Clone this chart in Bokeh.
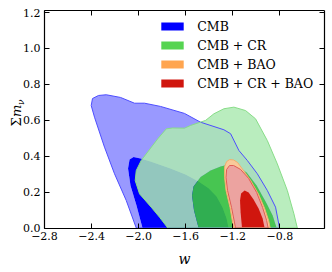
from bokeh.plotting import figure
from bokeh.models import (Range1d, FixedTicker, LinearAxis, Legend, LegendItem,
                          Label, CustomJSTickFormatter, CustomLabelingPolicy)
from bokeh.embed import file_html
from bokeh.resources import INLINE

# ---------------- data ----------------
x_ticks = [-2.8, -2.4, -2.0, -1.6, -1.2, -0.8]
y_ticks = [0.0, 0.2, 0.4, 0.6, 0.8, 1.0, 1.2]
labels = ["CMB", "CMB + CR", "CMB + BAO", "CMB + CR + BAO"]

# CMB (95% and 68%)
cmb95_w = [-2.020, -2.105, -2.205, -2.290, -2.375, -2.403, -2.392, -2.341, -2.275, -2.154,
           -2.035, -1.950, -1.814, -1.610, -1.473, -1.275, -1.218, -1.148, -1.076, -0.991,
           -0.906, -0.836, -0.802]
cmb95_m = [0.0, 0.153, 0.302, 0.450, 0.617, 0.682, 0.721, 0.738, 0.742, 0.727,
           0.695, 0.695, 0.677, 0.638, 0.589, 0.547, 0.525, 0.432, 0.376, 0.302,
           0.209, 0.116, 0.0]
cmb68_w = [-1.967, -2.018, -2.069, -2.090, -2.077, -2.043, -1.984, -1.899, -1.729, -1.601,
           -1.490, -1.405, -1.337, -1.286, -1.252, -1.235]
cmb68_m = [0.0, 0.125, 0.237, 0.331, 0.381, 0.395, 0.387, 0.370, 0.331, 0.298,
           0.259, 0.221, 0.175, 0.114, 0.053, 0.0]

# CMB + CR
cr95_w = [-1.752, -1.822, -1.893, -1.992, -2.029, -2.020, -1.978, -1.837, -1.765, -1.712,
          -1.610, -1.559, -1.431, -1.360, -1.275, -1.190, -1.091, -1.006, -0.906, -0.821,
          -0.736, -0.680, -0.651]
cr95_m = [0.0, 0.060, 0.116, 0.190, 0.264, 0.320, 0.376, 0.497, 0.552, 0.557,
          0.556, 0.571, 0.599, 0.636, 0.664, 0.673, 0.654, 0.608, 0.487, 0.357,
          0.209, 0.079, 0.0]
cr68_w = [-1.490, -1.529, -1.546, -1.533, -1.473, -1.388, -1.303, -1.235, -1.167, -1.082,
          -0.997, -0.912, -0.861, -0.827]
cr68_m = [0.0, 0.097, 0.181, 0.231, 0.284, 0.320, 0.342, 0.354, 0.348, 0.309,
          0.237, 0.136, 0.070, 0.0]

# CMB + BAO
bao95_w = [-1.193, -1.223, -1.257, -1.269, -1.269, -1.252, -1.227, -1.193, -1.159, -1.108,
           -1.048, -0.980, -0.929, -0.895, -0.882]
bao95_m = [0.0, 0.114, 0.209, 0.281, 0.342, 0.370, 0.381, 0.379, 0.365, 0.320,
           0.265, 0.187, 0.109, 0.042, 0.0]
bao68_w = [-1.140, -1.152, -1.156, -1.146, -1.112, -1.076, -1.030, -0.985, -0.950, -0.935]
bao68_m = [0.0, 0.086, 0.160, 0.205, 0.222, 0.210, 0.168, 0.115, 0.055, 0.0]

# CMB + CR + BAO
all95_w = [-1.176, -1.210, -1.244, -1.257, -1.252, -1.227, -1.193, -1.133, -1.065, -0.997,
           -0.946, -0.912, -0.899]
all95_m = [0.0, 0.114, 0.209, 0.281, 0.326, 0.348, 0.348, 0.326, 0.276, 0.198,
           0.114, 0.042, 0.0]
all68_w = [-1.121, -1.133, -1.138, -1.129, -1.099, -1.065, -1.023, -0.980, -0.946, -0.929]
all68_m = [0.0, 0.086, 0.153, 0.192, 0.209, 0.198, 0.159, 0.109, 0.053, 0.0]

# axis limits of the plotting box
w_min, w_max = -2.8, -0.42
m_min, m_max = 0.0, 1.214

# ---------------- layout (pixels) ----------------
W, H = 332, 272                 # canvas
BOX_L, BOX_R = 44, 324          # plotting box, canvas x
BOX_T, BOX_B = 9.5, 227.5       # plotting box, canvas y from top
sx = (BOX_R - BOX_L) / (w_max - w_min)
sy = (BOX_B - BOX_T) / (m_max - m_min)
x_range = Range1d(w_min - BOX_L / sx, w_max + (W - BOX_R) / sx)
y_range = Range1d(m_min - (H - BOX_B) / sy, m_max + BOX_T / sy)

SERIF = "DejaVu Serif"
p = figure(width=W, height=H, x_range=x_range, y_range=y_range,
           x_axis_location=None, y_axis_location=None,
           min_border=0, output_backend="svg", toolbar_location=None,
           background_fill_color="white", border_fill_color="white")
p.xgrid.visible = False
p.ygrid.visible = False
p.outline_line_color = None

fmt = CustomJSTickFormatter(code="return tick.toFixed(1).replace('-', '\u2212')")
hide_all = CustomLabelingPolicy(
    code="for (let i = 0; i < indices.size; i++) { indices.unset(i) }\nreturn indices")


def style_axis(ax, show_labels):
    ax.major_tick_in = 5
    ax.major_tick_out = 0
    ax.minor_tick_in = 0
    ax.minor_tick_out = 0
    ax.axis_line_color = "black"
    ax.axis_line_width = 1.2
    ax.major_tick_line_color = "black"
    ax.major_tick_line_width = 1
    if show_labels:
        ax.major_label_text_font = SERIF
        ax.major_label_text_font_size = "11px"
        ax.major_label_text_color = "black"
        ax.major_label_standoff = 4
        ax.formatter = fmt
    else:
        ax.major_label_policy = hide_all
        ax.major_label_standoff = 0


bottom = LinearAxis(fixed_location=m_min, bounds=(w_min, w_max),
                    ticker=FixedTicker(ticks=x_ticks, minor_ticks=[]))
left = LinearAxis(fixed_location=w_min, bounds=(m_min, m_max),
                  ticker=FixedTicker(ticks=y_ticks, minor_ticks=[]))
top = LinearAxis(fixed_location=m_max, bounds=(w_min, w_max),
                 ticker=FixedTicker(ticks=x_ticks, minor_ticks=[]))
right = LinearAxis(fixed_location=w_max, bounds=(m_min, m_max),
                   ticker=FixedTicker(ticks=y_ticks, minor_ticks=[]))
style_axis(bottom, True)
style_axis(left, True)
style_axis(top, False)
style_axis(right, False)


def band(outer_w, outer_m, inner_w, inner_m):
    return [[[outer_w, inner_w]]], [[[outer_m, inner_m]]]


def solid(w, m):
    return [[[w]]], [[[m]]]


# CMB
xs, ys = band(cmb95_w, cmb95_m, cmb68_w, cmb68_m)
p.multi_polygons(xs, ys, fill_color="#9999ff", line_color=None)
xs, ys = solid(cmb68_w, cmb68_m)
r_cmb = p.multi_polygons(xs, ys, fill_color="#0000ff", line_color=None)

# CMB + CR
xs, ys = band(cr95_w, cr95_m, cr68_w, cr68_m)
p.multi_polygons(xs, ys, fill_color="#adeab3", fill_alpha=0.85, line_color=None)
xs, ys = solid(cr68_w, cr68_m)
r_cr = p.multi_polygons(xs, ys, fill_color="#38cd32", fill_alpha=0.85, line_color=None)

# CMB + BAO
xs, ys = solid(bao95_w, bao95_m)
p.multi_polygons(xs, ys, fill_color="#f9c99a", line_color=None)
xs, ys = solid(bao68_w, bao68_m)
r_bao = p.multi_polygons(xs, ys, fill_color="#ffa54f", line_color=None)

# CMB + CR + BAO
xs, ys = solid(all95_w, all95_m)
p.multi_polygons(xs, ys, fill_color="#eca3a0", line_color=None)
xs, ys = solid(all68_w, all68_m)
r_all = p.multi_polygons(xs, ys, fill_color="#d0160e", line_color=None)

# outlines of the outer contours
p.patch(cmb95_w, cmb95_m, fill_alpha=0, line_color="#4d4dff", line_width=1)
p.patch(cr95_w, cr95_m, fill_alpha=0, line_color="#88dd88", line_width=1)
p.patch(bao95_w, bao95_m, fill_alpha=0, line_color="#f4ae6c", line_width=1)
p.patch(all95_w, all95_m, fill_alpha=0, line_color="#e05c55", line_width=1)

p.add_layout(bottom, "below")
p.add_layout(left, "left")
p.add_layout(top, "above")
p.add_layout(right, "right")

legend = Legend(items=[LegendItem(label=labels[0], renderers=[r_cmb]),
                       LegendItem(label=labels[1], renderers=[r_cr]),
                       LegendItem(label=labels[2], renderers=[r_bao]),
                       LegendItem(label=labels[3], renderers=[r_all])],
                location=(158.3, 181.5), glyph_width=28, glyph_height=10, label_height=10,
                label_standoff=11, spacing=4, padding=0, margin=0,
                border_line_alpha=0, background_fill_alpha=0,
                label_text_font=SERIF, label_text_font_size="12.5px",
                label_text_color="black")
p.add_layout(legend)

# y axis label: Sigma m_nu (rotated); screen units = canvas px from left / bottom
p.add_layout(Label(x=16, y=146, x_units="screen", y_units="screen", text="\u03a3",
                   angle=90, angle_units="deg", text_font=SERIF, text_font_size="13px",
                   text_baseline="middle", text_align="left", text_color="black"))
p.add_layout(Label(x=16, y=155.5, x_units="screen", y_units="screen", text="m",
                   angle=90, angle_units="deg", text_font=SERIF, text_font_size="13px",
                   text_font_style="italic",
                   text_baseline="middle", text_align="left", text_color="black"))
p.add_layout(Label(x=20, y=167.5, x_units="screen", y_units="screen", text="\u03bd",
                   angle=90, angle_units="deg", text_font=SERIF, text_font_size="9px",
                   text_font_style="italic",
                   text_baseline="middle", text_align="left", text_color="black"))
# x axis label
p.add_layout(Label(x=184, y=14, x_units="screen", y_units="screen", text="w",
                   text_font=SERIF, text_font_size="14px", text_font_style="italic",
                   text_baseline="middle", text_align="center", text_color="black"))

open("out.html", "w").write(file_html(p, INLINE))
